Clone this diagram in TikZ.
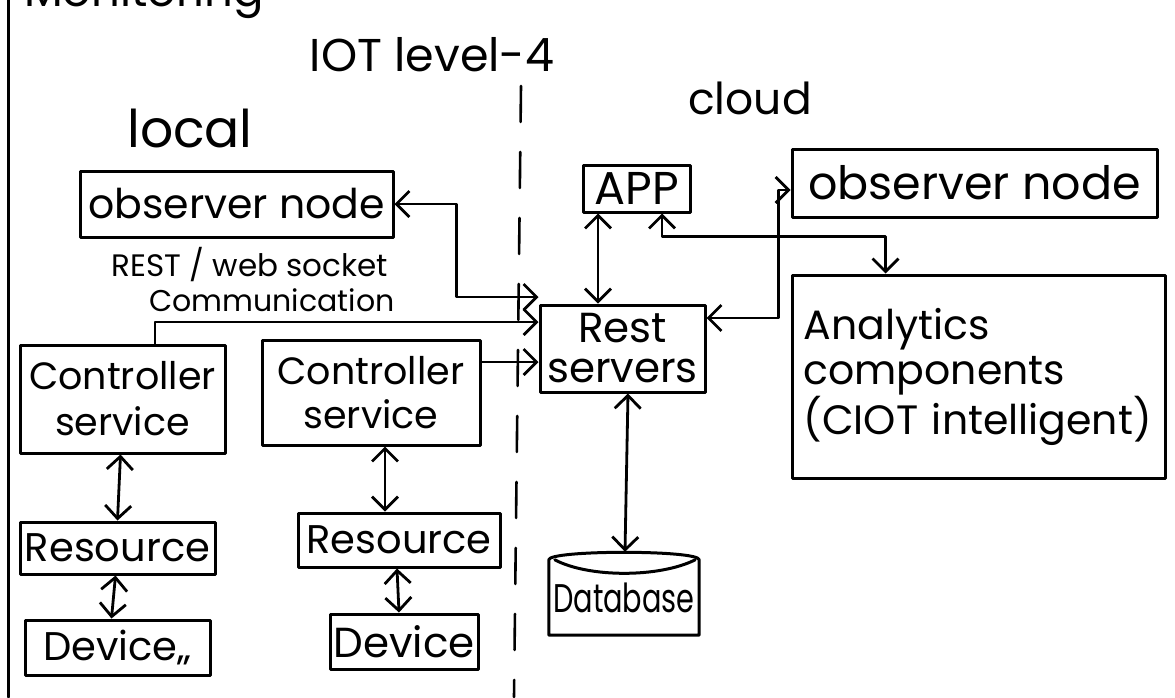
\documentclass[tikz,border=0pt]{standalone}
\usepackage{fontspec}
\setmainfont{Poppins}
\usetikzlibrary{arrows.meta}
\begin{document}
\begin{tikzpicture}[x=1pt,y=-1pt,
  >={Straight Barb[length=13pt,width=26pt]},
  ink/.style={line width=3pt, line cap=round, line join=round},
  blk/.style={draw, ink, inner sep=0pt, align=center, font=\fontsize{40}{46}\selectfont},
  lbl/.style={inner sep=0pt, align=center},
  link/.style={ink, line width=2.8pt},
]
\useasboundingbox (0,0) rectangle (1175,697);
\clip (0,0) rectangle (1175,697);
\fill[white] (0,0) rectangle (1175,697);

% page heading, cut by the top edge
\node[lbl, anchor=base west, font=\fontsize{45}{45}\selectfont] (mon) at (24,6) {Monitoring};
% margin rule and local/cloud divider
\draw[ink] (8,0) -- (8,697);
\draw[ink, line width=2.6pt, dash pattern=on 36pt off 30pt] (521,86) -- (514,697);

% headings
\node[lbl, font=\fontsize{46}{46}\selectfont] (title) at (432,55) {IOT level-4};
\node[lbl, font=\fontsize{52}{52}\selectfont] (local) at (190,128) {local};
\node[lbl, font=\fontsize{44}{44}\selectfont] (cloud) at (750,98) {cloud};
\node[lbl, font=\fontsize{31}{31}\selectfont] (restws) at (250,265) {REST / web socket};
\node[lbl, font=\fontsize{30}{30}\selectfont] (comm) at (272,300) {Communication};

% local side
\node[blk, minimum width=313pt, minimum height=66pt, font=\fontsize{41}{46}\selectfont] (lobs) at (236.5,204) {observer node};
\node[blk, minimum width=205pt, minimum height=108pt, font=\fontsize{38}{46}\selectfont] (ctrlL) at (122.5,399) {Controller\\service};
\node[blk, minimum width=218pt, minimum height=105pt, font=\fontsize{38}{44}\selectfont] (ctrlM) at (371,392.5) {Controller\\service};
\node[blk, minimum width=195pt, minimum height=52pt] (resL) at (117.5,548) {Resource};
\node[blk, minimum width=202pt, minimum height=54pt] (resM) at (399,540) {Resource};
\node[blk, minimum width=185pt, minimum height=55pt] (devL) at (117.5,647.5) {Device,,};
\node[blk, minimum width=148pt, minimum height=55pt, font=\fontsize{42}{46}\selectfont] (devM) at (404,641.5) {Device};

% cloud side
\node[blk, minimum width=107pt, minimum height=47pt, font=\fontsize{46}{46}\selectfont] (app) at (636.5,188.5) {APP};
\node[blk, minimum width=365pt, minimum height=68pt, font=\fontsize{46}{46}\selectfont] (robs) at (974.5,183) {observer node};
\node[blk, minimum width=165pt, minimum height=87pt, font=\fontsize{42}{40}\selectfont] (rest) at (622.5,348.5) {Rest\\servers};
\node[blk, minimum width=373pt, minimum height=203pt, align=left, text width=350pt,
      font=\fontsize{41}{45}\selectfont] (ana) at (978.5,376.5) {Analytics\\components\\(CIOT intelligent)};
\node[lbl, minimum width=150pt, minimum height=75pt, font=\fontsize{40}{44}\selectfont] (db) at (624,597.5) {\raisebox{-5pt}{\scalebox{0.72}[1]{Database}}};
\draw[ink] (db.south west) -- (db.north west)
  .. controls ([yshift=10pt]db.north west) and ([yshift=10pt]db.north east) .. (db.north east)
  -- (db.south east) -- cycle;
\draw[ink] ([xshift=6pt]db.north west)
  .. controls ([xshift=40pt,yshift=-18pt]db.north west) and ([xshift=-40pt,yshift=-18pt]db.north east)
  .. ([xshift=-4pt]db.north east);

% connectors
\draw[link,<->] (lobs.east) -- ++(62,0) |- ([yshift=51.5pt]rest.west);
\draw[link,->] ([xshift=32.5pt]ctrlL.north) |- ([yshift=26.5pt]rest.west);
\draw[link,->] ([yshift=30.5pt]ctrlM.east) -- ([yshift=-13.5pt]rest.west);
\draw[link,<->] ([xshift=-38.5pt]app.south) -- ([xshift=-24.5pt]rest.north);
\draw[link,<->] ([xshift=25.5pt]app.south) -- ++(0,23) -| ([xshift=-93pt]ana.north);
\draw[link,<->] ([yshift=-7pt]robs.west) -- ++(-12,0) |- ([yshift=30.5pt]rest.east);
\draw[link,<->] ([xshift=5.5pt]rest.south) -- ([xshift=1pt,yshift=8pt]db.north);
\draw[link,<->] ([xshift=-2pt]ctrlL.south) -- (resL.north);
\draw[link,<->] ([xshift=-2pt]resL.south) -- ([xshift=-6pt]devL.north);
\draw[link,<->] ([xshift=14pt]ctrlM.south) -- ([xshift=-14pt]resM.north);
\draw[link,<->] ([xshift=-2pt]resM.south) -- ([xshift=-5pt]devM.north);
\end{tikzpicture}
\end{document}
